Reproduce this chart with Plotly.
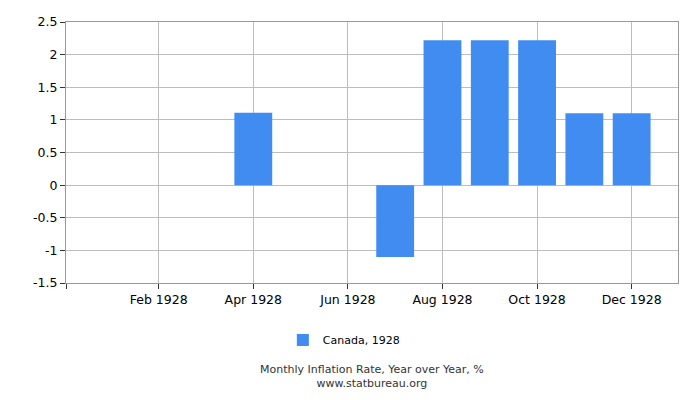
import plotly.graph_objects as go

# Monthly inflation, Canada 1928 (missing months left empty)
months = ["Jan 1928", "Feb 1928", "Mar 1928", "Apr 1928", "May 1928", "Jun 1928",
          "Jul 1928", "Aug 1928", "Sep 1928", "Oct 1928", "Nov 1928", "Dec 1928"]
values = [None, None, None, 1.11, None, None, -1.10, 2.22, 2.22, 2.22, 1.10, 1.10]
y_ticks = [-1.5, -1, -0.5, 0, 0.5, 1, 1.5, 2, 2.5]
y_labels = ["-1.5", "-1", "-0.5", "0", "0.5", "1", "1.5", "2", "2.5"]

x_pos = list(range(len(months)))
x_ticks = [-0.96] + x_pos[1::2]
x_labels = [""] + months[1::2]

fig = go.Figure()
fig.add_trace(go.Bar(
    x=x_pos, y=values, name="Canada, 1928",
    marker=dict(color="#418cf0", line=dict(width=0)),
    width=0.8,
))

# page body has an 8px margin, so the figure is 8px smaller and shifted
fig.update_layout(
    width=692, height=392,
    margin=dict(l=58, r=22, t=14, b=117),
    paper_bgcolor="white", plot_bgcolor="white",
    font=dict(family="DejaVu Sans", size=12, color="#000"),
    showlegend=True,
    legend=dict(orientation="h", x=0.454, xanchor="center", y=-0.218, yanchor="middle",
                font=dict(size=11, color="#000"), itemwidth=30),
    xaxis=dict(
        range=[-0.96, 11.98], tickvals=x_ticks, ticktext=x_labels,
        showgrid=True, gridcolor="#bdbdbd", gridwidth=1,
        showline=True, linecolor="#999", mirror=True,
        ticks="outside", ticklen=5, tickcolor="#333",
        tickfont=dict(size=12.5), zeroline=False, automargin=False,
    ),
    yaxis=dict(
        range=[-1.5, 2.5], tickvals=y_ticks, ticktext=y_labels,
        showgrid=True, gridcolor="#bdbdbd", gridwidth=1,
        showline=True, linecolor="#999", mirror=True,
        ticks="outside", ticklen=5, tickcolor="#333",
        tickfont=dict(size=12.5), zeroline=False, automargin=False,
    ),
    annotations=[
        dict(text="Monthly Inflation Rate, Year over Year, %<br>www.statbureau.org",
             x=0.5, y=-0.358, xref="paper", yref="paper",
             xanchor="center", yanchor="middle",
             showarrow=False, font=dict(size=11, color="#333")),
    ],
)

fig.write_html("out.html")
